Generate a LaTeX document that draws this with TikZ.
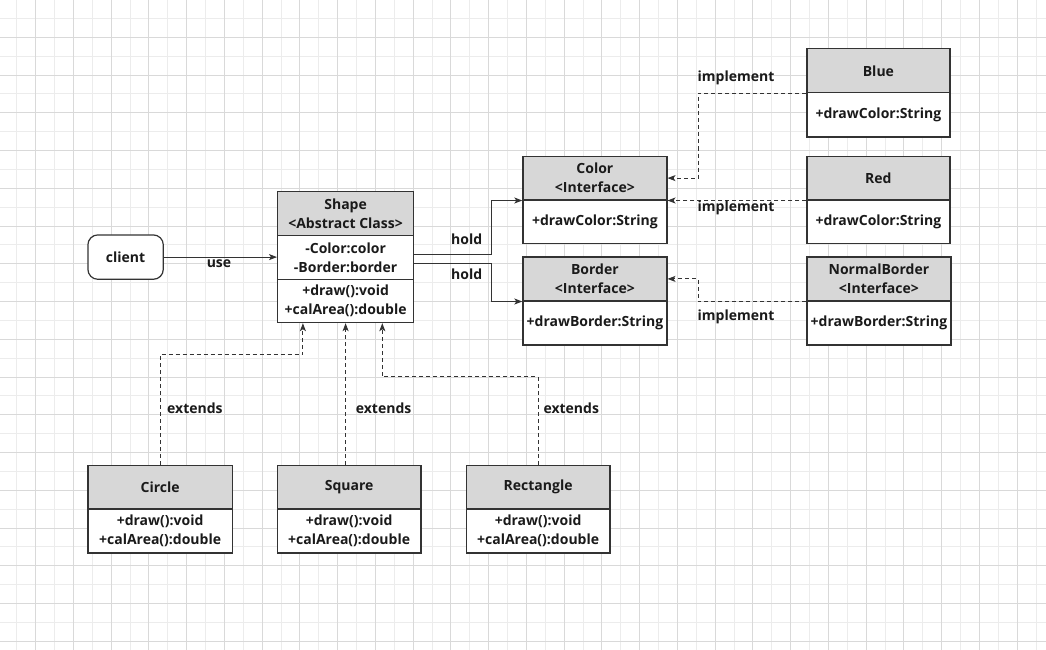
\documentclass[tikz,border=0pt]{standalone}
\usepackage{fontspec}
\setmainfont{Open Sans}
\usetikzlibrary{arrows.meta,calc}
\definecolor{minorg}{RGB}{236,236,236}
\definecolor{majorg}{RGB}{217,217,217}
\definecolor{hdrfill}{RGB}{215,215,215}
\definecolor{linec}{RGB}{51,51,51}
\definecolor{txt}{RGB}{26,26,26}
\tikzset{
  boxbase/.style={draw=linec, line width=1.2pt, inner sep=0pt, align=center, text=txt,
    font=\fontsize{14}{19}\selectfont\bfseries, anchor=north west},
  hdr/.style={boxbase, fill=hdrfill},
  bodybox/.style={boxbase, fill=white},
  lbl/.style={text=txt, font=\fontsize{14}{19}\selectfont\bfseries, inner sep=0pt},
  conn/.style={draw=linec, line width=1pt},
  arr/.style={conn, -{Stealth[length=8pt,width=6pt,inset=2pt]}},
  darr/.style={arr, dash pattern=on 4pt off 3pt},
  dline/.style={conn, dash pattern=on 4pt off 3pt},
}
\begin{document}
\begin{tikzpicture}[x=1pt,y=-1pt]
\useasboundingbox (0,0) rectangle (1046,650);
\fill[white] (0,0) rectangle (1046,650);
% grid
\foreach \k in {0,...,27} \draw[minorg, line width=1pt] ({16.8+37.75*\k},0) -- ({16.8+37.75*\k},650);
\foreach \k in {0,...,16} \draw[minorg, line width=1pt] (0,{18.4+37.75*\k}) -- (1046,{18.4+37.75*\k});
\foreach \k in {0,...,26} \draw[majorg, line width=1pt] ({35.7+37.75*\k},0) -- ({35.7+37.75*\k},650);
\foreach \k in {0,...,16} \draw[majorg, line width=1pt] (0,{37.3+37.75*\k}) -- (1046,{37.3+37.75*\k});

% client
\node[boxbase, fill=white, rounded corners=10pt, minimum width=75.4pt, minimum height=44.4pt] (client) at (87.3,234.3) {client};

% Shape
\node[hdr, minimum width=136pt, minimum height=43.5pt] (shapeH) at (277,191) {Shape\\<Abstract Class>};
\node[bodybox, minimum width=136pt, minimum height=44.5pt] (shapeA) at (277,234.5) {-Color:color\\-Border:border};
\node[bodybox, minimum width=136pt, minimum height=43pt] (shapeM) at (277,279) {+draw():void\\+calArea():double};

% Color / Border
\node[hdr, minimum width=144pt, minimum height=43.6pt] (colorH) at (522.3,155.7) {Color\\<Interface>};
\node[bodybox, minimum width=144pt, minimum height=43.7pt] (colorB) at (522.3,199.3) {+drawColor:String};
\node[hdr, minimum width=144pt, minimum height=44pt] (borderH) at (522.3,256.3) {Border\\<Interface>};
\node[bodybox, minimum width=144pt, minimum height=44pt] (borderB) at (522.3,300.3) {+drawBorder:String};

% Blue / Red / NormalBorder
\node[hdr, minimum width=143pt, minimum height=44pt] (blueH) at (806.3,48.3) {Blue};
\node[bodybox, minimum width=143pt, minimum height=44pt] (blueB) at (806.3,92.3) {+drawColor:String};
\node[hdr, minimum width=143pt, minimum height=43.6pt] (redH) at (806.3,155.7) {Red};
\node[bodybox, minimum width=143pt, minimum height=43.7pt] (redB) at (806.3,199.3) {+drawColor:String};
\node[hdr, minimum width=144pt, minimum height=44pt] (nbH) at (806.3,256.3) {NormalBorder\\<Interface>};
\node[bodybox, minimum width=144pt, minimum height=44pt] (nbB) at (806.3,300.3) {+drawBorder:String};

% Circle / Square / Rectangle
\node[hdr, minimum width=144.4pt, minimum height=43.6pt] (circleH) at (87.3,464.7) {Circle};
\node[bodybox, minimum width=144.4pt, minimum height=44pt] (circleB) at (87.3,508.3) {+draw():void\\+calArea():double};
\node[hdr, minimum width=143.6pt, minimum height=43.6pt] (squareH) at (276.7,464.7) {Square};
\node[bodybox, minimum width=143.6pt, minimum height=44pt] (squareB) at (276.7,508.3) {+draw():void\\+calArea():double};
\node[hdr, minimum width=143.6pt, minimum height=43.6pt] (rectH) at (465.7,464.7) {Rectangle};
\node[bodybox, minimum width=143.6pt, minimum height=44pt] (rectB) at (465.7,508.3) {+draw():void\\+calArea():double};

% connectors
\draw[arr] (client.east) -- (client.east -| shapeA.west);
\node[lbl] (useL) at (219,263.5) {use};

\draw[arr] ([yshift=3.2pt]shapeA.east) -- ++(77.5,0) |- (colorH.south west);
\node[lbl] (hold1) at (466.7,239.3) {hold};
\draw[arr] ([yshift=-6.2pt]shapeA.east) -- ++(77.5,0) |- (borderH.south west);
\node[lbl] (hold2) at (466.7,274.3) {hold};

\draw[darr] (blueH.south west) -- ++(-108,0) |- (colorH.east);
\node[lbl] (imp1) at (736,78.3) {implement};
\draw[darr] (redH.south west) -- (colorH.south east);
\node[lbl] (imp2) at (736,208.3) {implement};
\draw[darr] (nbH.south west) -- ++(-108,0) |- (borderH.east);
\node[lbl] (imp3) at (736,316.7) {implement};

\draw[darr] (circleH.north) -- ++(0,-110.4) -| ([xshift=-42.7pt]shapeM.south);
\draw[darr] (shapeM.south |- squareH.north) -- (shapeM.south);
\draw[darr] (rectH.north) -- ++(0,-88) -| ([xshift=36.7pt]shapeM.south);
\node[lbl, anchor=west] (ext1) at (167,408.7) {extends};
\node[lbl, anchor=west] (ext2) at (355.7,408.7) {extends};
\node[lbl, anchor=west] (ext3) at (543.3,408.7) {extends};
\end{tikzpicture}
\end{document}
